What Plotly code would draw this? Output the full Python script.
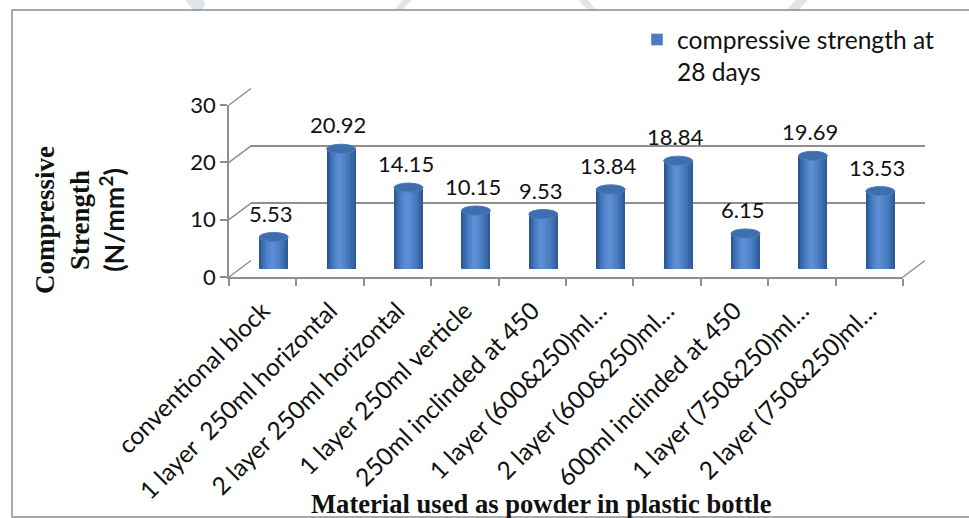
import plotly.graph_objects as go

# ---- data -------------------------------------------------------------
categories = [
    "conventional block",
    "1 layer\u00a0 250ml horizontal",
    "2 layer 250ml horizontal",
    "1 layer 250ml verticle",
    "250ml inclinded at 450",
    "1 layer (600&250)ml…",
    "2 layer (600&250)ml…",
    "600ml inclinded at 450",
    "1 layer (750&250)ml…",
    "2 layer (750&250)ml…",
]
strength_28d = [5.53, 20.92, 14.15, 10.15, 9.53, 13.84, 18.84, 6.15, 19.69, 13.53]
y_ticks = [0, 10, 20, 30]
series_name = "compressive strength at<br>28 days"
x_title = "Material used as powder in plastic bottle"

# ---- geometry of the pseudo-3D box (pixels) ---------------------------
W, H = 969, 518
F_LEFT, F_RIGHT, F_BOTTOM, F_TOP = 229, 903, 277, 105
DX, DY = 22, -16.5          # depth offset of the back wall
Y_MAX = 30

SANS = "Lato"
SERIF = "Liberation Serif"
GRID = "#8f8f8f"
TEXT = "#111111"


def px_x(p):
    return p / W


def px_y(p):
    return (H - p) / H


def domains(shift):
    dx, dy = DX * shift, DY * shift
    return ([px_x(F_LEFT + dx), px_x(F_RIGHT + dx)],
            [px_y(F_BOTTOM + dy), px_y(F_TOP + dy)])


front_x, front_y = domains(0.0)
back_x, back_y = domains(1.0)
mid_x, mid_y = domains(0.5)

fig = go.Figure()

# empty traces so the front axes and the back wall are laid out
for xa, ya in (("x", "y"), ("x2", "y2")):
    fig.add_trace(go.Scatter(x=categories, y=[None] * len(categories),
                             xaxis=xa, yaxis=ya, mode="markers",
                             showlegend=False, hoverinfo="skip"))

# ---- cylinders: strips of shading overlaid from left to right ---------
BAR_W = 0.43
shade = ["#2b5893", "#3867a8", "#4174b9", "#4a7dc3", "#5386cc", "#5a8dd3",
         "#5b8ed4", "#578ad0", "#5184c9", "#4b7ec2", "#4577ba", "#3e6fb1",
         "#3766a5", "#2e5a97"]
n = len(shade)
for k, col in enumerate(shade):
    left = -BAR_W / 2 + k * BAR_W / n
    fig.add_trace(go.Bar(
        x=categories, y=strength_28d, xaxis="x3", yaxis="y3",
        width=BAR_W / 2 - left, offset=left,
        marker=dict(color=col, line=dict(width=0)),
        showlegend=False, hoverinfo="skip",
    ))

# legend entry
fig.add_trace(go.Bar(
    x=categories, y=[None] * len(categories), xaxis="x3", yaxis="y3",
    name=series_name, marker=dict(color="#4a7ec2"), showlegend=True,
))

# elliptical caps (top and base) of each cylinder
CAP = 0.8
for i, v in enumerate(strength_28d):
    fig.add_shape(type="circle", xref="x3", yref="y3", layer="below",
                  x0=i - BAR_W / 2, x1=i + BAR_W / 2, y0=-CAP, y1=CAP,
                  fillcolor="#3d6dad", line=dict(width=0))
    fig.add_shape(type="circle", xref="x3", yref="y3",
                  x0=i - BAR_W / 2, x1=i + BAR_W / 2, y0=v - CAP, y1=v + CAP,
                  fillcolor="#3e6eae", line=dict(color="#4b7dbf", width=1))
    fig.add_annotation(x=i, y=v, xref="x3", yref="y3", text=f"{v:.2f}",
                       showarrow=False, yshift=24, xshift=-3,
                       font=dict(family=SANS, size=22, color=TEXT))

# ---- side wall / floor diagonals ---------------------------------------
def y_front_px(v):
    return F_BOTTOM - v / Y_MAX * (F_BOTTOM - F_TOP)


for v in y_ticks:
    yp = y_front_px(v)
    fig.add_shape(type="line", xref="paper", yref="paper",
                  x0=px_x(F_LEFT), y0=px_y(yp),
                  x1=px_x(F_LEFT + DX), y1=px_y(yp + DY),
                  line=dict(color=GRID, width=1.5))
fig.add_shape(type="line", xref="paper", yref="paper",
              x0=px_x(F_RIGHT), y0=px_y(F_BOTTOM),
              x1=px_x(F_RIGHT + DX), y1=px_y(F_BOTTOM + DY),
              line=dict(color=GRID, width=1.5))

# outer frame
fig.add_shape(type="rect", xref="paper", yref="paper",
              x0=px_x(12), x1=px_x(990), y0=px_y(517), y1=px_y(10),
              line=dict(color="#8c8c8c", width=1.5))

# faint page watermark strokes above the frame
watermark = [
    [(186, 0), (204, 0), (205, 6), (200, 11), (194, 11), (189, 5)],
    [(403, 0), (412, 0), (401, 11), (393, 11)],
    [(578, 0), (588, 0), (597, 11), (589, 11)],
    [(796, 0), (808, 0), (798, 11), (786, 11)],
]
for poly in watermark:
    path = "M " + " L ".join(f"{px_x(a):.5f},{px_y(b):.5f}" for a, b in poly) + " Z"
    fig.add_shape(type="path", xref="paper", yref="paper", path=path,
                  fillcolor="#dfe5ea", line=dict(width=0), layer="below")

# ---- titles --------------------------------------------------------------
fig.add_annotation(xref="paper", yref="paper", x=px_x(541), y=px_y(504),
                   xanchor="center", yanchor="middle",
                   text=f"<b>{x_title}</b>", showarrow=False,
                   font=dict(family=SERIF, size=26.6, color=TEXT))
fig.add_annotation(xref="paper", yref="paper", x=px_x(80), y=px_y(220),
                   xanchor="center", yanchor="middle",
                   textangle=-90, showarrow=False,
                   text=("<b>Compressive<br>Strength<br>"
                         f"<span style='font-family:{SANS}'>(N/mm<sup>2</sup>)</span></b>"),
                   font=dict(family=SERIF, size=27, color=TEXT))

hidden = dict(showgrid=False, zeroline=False, showline=False,
              showticklabels=False, ticks="", automargin=False)

fig.update_layout(
    width=W, height=H,
    margin=dict(l=0, r=0, t=0, b=0, autoexpand=False),
    paper_bgcolor="white", plot_bgcolor="rgba(0,0,0,0)",
    barmode="overlay", bargap=0,
    xaxis=dict(domain=front_x, anchor="y", type="category",
               categoryorder="array", categoryarray=categories,
               range=[-0.5, len(categories) - 0.5],
               showline=True, linecolor=GRID, linewidth=1.5,
               ticks="outside", tickson="boundaries", ticklen=7,
               tickcolor=GRID, tickwidth=1.5, tickangle=-45,
               ticklabelstandoff=8,
               showgrid=False, zeroline=False, automargin=False,
               tickfont=dict(family=SANS, size=24.5, color=TEXT)),
    yaxis=dict(domain=front_y, anchor="x", range=[0, Y_MAX],
               tickvals=y_ticks, showline=True, linecolor=GRID,
               linewidth=1.5, ticks="outside", ticklen=7, tickcolor=GRID,
               tickwidth=1.5, showgrid=False, zeroline=False, automargin=False,
               tickfont=dict(family=SANS, size=22, color=TEXT)),
    xaxis2=dict(domain=back_x, anchor="y2", type="category",
                categoryorder="array", categoryarray=categories,
                range=[-0.5, len(categories) - 0.5], **hidden),
    yaxis2=dict(domain=back_y, anchor="x2", range=[0, Y_MAX], tickvals=y_ticks,
                showgrid=True, gridcolor=GRID, gridwidth=1.5, automargin=False,
                zeroline=False, showline=False, showticklabels=False, ticks=""),
    xaxis3=dict(domain=mid_x, anchor="y3", type="category",
                categoryorder="array", categoryarray=categories,
                range=[-0.5, len(categories) - 0.5], **hidden),
    yaxis3=dict(domain=mid_y, anchor="x3", range=[0, Y_MAX], **hidden),
    legend=dict(x=px_x(637), y=px_y(17), xanchor="left", yanchor="top",
                valign="top", bgcolor="rgba(0,0,0,0)",
                font=dict(family=SANS, size=24.6, color=TEXT)),
    showlegend=True,
)

fig.write_html("out.html")
